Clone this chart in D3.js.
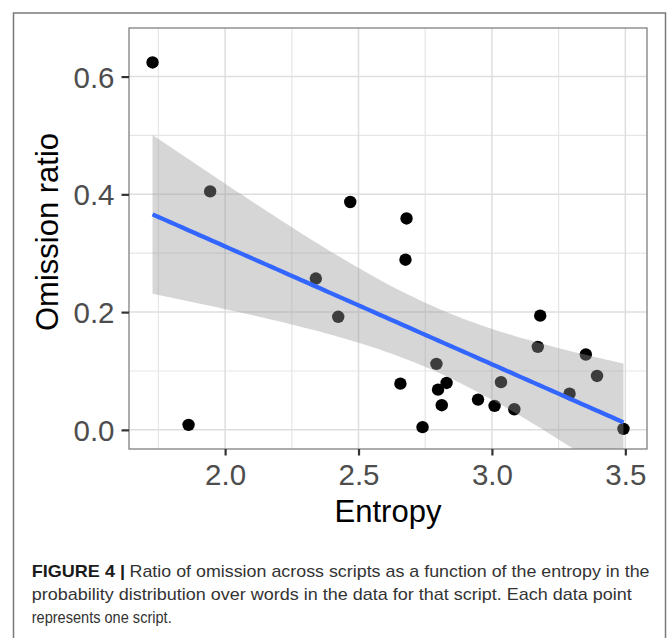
<!DOCTYPE html>
<html>
<head>
<meta charset="utf-8">
<script src="https://cdn.jsdelivr.net/npm/d3@7"></script>
<style>
  html, body { margin: 0; padding: 0; background: #fff; }
  svg { display: block; }
  text { font-family: "Liberation Sans", Arial, Helvetica, sans-serif; }
</style>
</head>
<body>
<svg id="chart" width="669" height="638"></svg>
<script>
// ---- data ----
const entropy  = [1.728, 1.863, 1.944, 2.340, 2.424, 2.469, 2.657, 2.676, 2.680, 2.740, 2.792, 2.798,
                  2.812, 2.830, 2.948, 3.010, 3.034, 3.084, 3.172, 3.181, 3.291, 3.352, 3.394, 3.493];
const omission = [0.624, 0.0085, 0.405, 0.257, 0.192, 0.387, 0.0785, 0.289, 0.359, 0.0046, 0.112, 0.0683,
                  0.0419, 0.0797, 0.0514, 0.0407, 0.081, 0.035, 0.141, 0.194, 0.0615, 0.128, 0.0915, 0.0017];
const xTickValues = [2.0, 2.5, 3.0, 3.5];
const xMinorValues = [1.75, 2.25, 2.75, 3.25];
const yTickValues = [0.0, 0.2, 0.4, 0.6];
const yMinorValues = [0.1, 0.3, 0.5];
const yLimits = [0, 0.65];
const xTitle = "Entropy";
const yTitle = "Omission ratio";
const captionBold = "FIGURE 4 |";
const captionLines = [
  "Ratio of omission across scripts as a function of the entropy in the",
  "probability distribution over words in the data for that script. Each data point",
  "represents one script."
];
const tCrit = 2.0739; // t(0.975, df = 22)

// ---- layout ----
const svg = d3.select("#chart");
const P = { left: 129, top: 28, right: 647, bottom: 449 };

const xr = d3.extent(entropy);
const xe = (xr[1] - xr[0]) * 0.05;
const x = d3.scaleLinear().domain([xr[0] - xe, xr[1] + xe]).range([P.left, P.right]);
const ye = (yLimits[1] - yLimits[0]) * 0.05;
const y = d3.scaleLinear().domain([yLimits[0] - ye, yLimits[1] + ye]).range([P.bottom, P.top]);

// outer frame
svg.append("rect").attr("x", 13.5).attr("y", 13).attr("width", 652).attr("height", 700)
  .attr("fill", "none").attr("stroke", "#7a7a7a").attr("stroke-width", 1.5);

// clip for panel
svg.append("defs").append("clipPath").attr("id", "panel")
  .append("rect").attr("x", P.left).attr("y", P.top)
  .attr("width", P.right - P.left).attr("height", P.bottom - P.top);

const g = svg.append("g").attr("clip-path", "url(#panel)");

// grid
g.selectAll(".xminor").data(xMinorValues).join("line")
  .attr("x1", d => x(d)).attr("x2", d => x(d)).attr("y1", P.top).attr("y2", P.bottom)
  .attr("stroke", "#e6e6e6").attr("stroke-width", 1.2);
g.selectAll(".yminor").data(yMinorValues).join("line")
  .attr("y1", d => y(d)).attr("y2", d => y(d)).attr("x1", P.left).attr("x2", P.right)
  .attr("stroke", "#e6e6e6").attr("stroke-width", 1.2);
g.selectAll(".xmajor").data(xTickValues).join("line")
  .attr("x1", d => x(d)).attr("x2", d => x(d)).attr("y1", P.top).attr("y2", P.bottom)
  .attr("stroke", "#dedede").attr("stroke-width", 1.5);
g.selectAll(".ymajor").data(yTickValues).join("line")
  .attr("y1", d => y(d)).attr("y2", d => y(d)).attr("x1", P.left).attr("x2", P.right)
  .attr("stroke", "#dedede").attr("stroke-width", 1.5);

// points
const pts = entropy.map((e, i) => ({ x: e, y: omission[i] }));
g.selectAll("circle").data(pts).join("circle")
  .attr("cx", d => x(d.x)).attr("cy", d => y(d.y)).attr("r", 6.2).attr("fill", "#000");

// linear fit with 95% CI
const n = pts.length;
const mx = d3.mean(entropy), my = d3.mean(omission);
const sxx = d3.sum(entropy, v => (v - mx) ** 2);
const sxy = d3.sum(pts, d => (d.x - mx) * (d.y - my));
const b = sxy / sxx, a = my - b * mx;
const rss = d3.sum(pts, d => (d.y - (a + b * d.x)) ** 2);
const s = Math.sqrt(rss / (n - 2));
const fit = d3.range(80).map(i => {
  const xv = xr[0] + (xr[1] - xr[0]) * i / 79;
  const yv = a + b * xv;
  const se = s * Math.sqrt(1 / n + (xv - mx) ** 2 / sxx);
  return { x: xv, y: yv, lo: yv - tCrit * se, hi: yv + tCrit * se };
});

g.append("path").datum(fit)
  .attr("d", d3.area().x(d => x(d.x)).y0(d => y(d.lo)).y1(d => y(d.hi)))
  .attr("fill", "#999999").attr("fill-opacity", 0.4);
g.append("path").datum(fit)
  .attr("d", d3.line().x(d => x(d.x)).y(d => y(d.y)))
  .attr("fill", "none").attr("stroke", "#3366FF").attr("stroke-width", 4.3);

// panel border
svg.append("rect").attr("x", P.left).attr("y", P.top)
  .attr("width", P.right - P.left).attr("height", P.bottom - P.top)
  .attr("fill", "none").attr("stroke", "#808080").attr("stroke-width", 1.3);

// axes
const xAxis = svg.append("g").attr("transform", `translate(0,${P.bottom})`)
  .call(d3.axisBottom(x).tickValues(xTickValues).tickFormat(d3.format(".1f")).tickSize(6.5).tickPadding(8.5));
const yAxis = svg.append("g").attr("transform", `translate(${P.left},0)`)
  .call(d3.axisLeft(y).tickValues(yTickValues).tickFormat(d3.format(".1f")).tickSize(7.5).tickPadding(7));
[xAxis, yAxis].forEach(ax => {
  ax.select(".domain").remove();
  ax.selectAll(".tick line").attr("stroke", "#333").attr("stroke-width", 2.2);
  ax.selectAll(".tick text").attr("fill", "#4d4d4d").style("font-size", "29.5px")
    .style("font-family", '"Liberation Sans", Arial, sans-serif');
});
xAxis.selectAll(".tick text").attr("dy", null).attr("y", 36);
yAxis.selectAll(".tick text").attr("dy", "0.36em");

// titles
svg.append("text").attr("x", (P.left + P.right) / 2).attr("y", 521.5)
  .attr("text-anchor", "middle").style("font-size", "31px").attr("fill", "#000").text(xTitle);
svg.append("text").attr("transform", "translate(58,232) rotate(-90)")
  .attr("text-anchor", "middle").style("font-size", "31px").attr("fill", "#000").text(yTitle);

// caption
svg.append("text").attr("x", 31.7).attr("y", 576.7).style("font-size", "17px")
  .style("font-weight", "bold").attr("fill", "#1a1a1a")
  .attr("textLength", 93.3).attr("lengthAdjust", "spacingAndGlyphs").text(captionBold);
const capSpecs = [
  { x: 129.5, y: 576.7, len: 520 },
  { x: 31.7, y: 600, len: 600 },
  { x: 31.7, y: 623.3, len: 140 }
];
captionLines.forEach((t, i) => {
  svg.append("text").attr("x", capSpecs[i].x).attr("y", capSpecs[i].y)
    .style("font-size", "17px").attr("fill", "#333")
    .attr("textLength", capSpecs[i].len).attr("lengthAdjust", "spacingAndGlyphs").text(t);
});
</script>
</body>
</html>
